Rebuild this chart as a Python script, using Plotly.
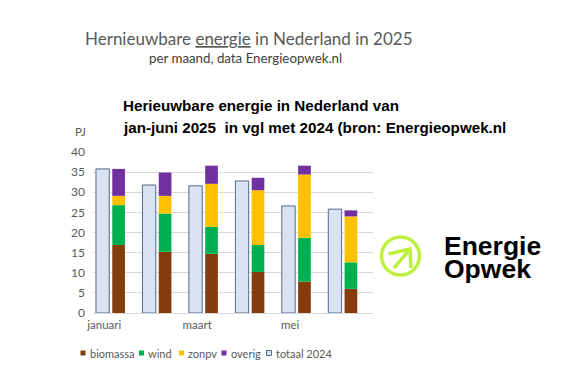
import plotly.graph_objects as go
import numpy as np

# ---- data ----
months = ["januari", "februari", "maart", "april", "mei", "juni"]
biomassa = [16.9, 15.2, 14.7, 10.2, 7.8, 6.0]
wind = [9.9, 9.5, 6.7, 6.7, 10.9, 6.6]
zonpv = [2.3, 4.4, 10.7, 13.6, 15.7, 11.4]
overig = [6.7, 5.8, 4.5, 3.1, 2.2, 1.5]
totaal_2024 = [35.8, 31.8, 31.6, 32.8, 26.6, 25.8]
y_ticks = [0, 5, 10, 15, 20, 25, 30, 35, 40]
x_tick_labels = ["januari", "maart", "mei"]

series = [("biomassa", biomassa, "#843c0c"),
          ("wind", wind, "#00b050"),
          ("zonpv", zonpv, "#ffc000"),
          ("overig", overig, "#7030a0")]
c2024 = "#dae3f3"
c2024_line = "#51698a"

OFF = 8  # browser body margin
W, H = 578 - OFF, 385 - OFF
L, R, T, B = 85, 83, 144, 72
pw, ph = W - L - R, H - T - B
GREY = "#595959"

def px(x):
    return (x - OFF - L) / pw

def py(y):
    return (H - B - (y - OFF)) / ph

xs = np.arange(1, len(months) + 1)

fig = go.Figure()
fig.add_trace(go.Bar(x=xs, y=totaal_2024, name="totaal 2024", offset=-0.319, width=0.287,
                     marker=dict(color=c2024, line=dict(color=c2024_line, width=1))))
base = np.zeros(len(months))
for name, vals, col in series:
    fig.add_trace(go.Bar(x=xs, y=vals, base=base.copy(), name=name, offset=0.032, width=0.273,
                         marker=dict(color=col, line=dict(width=0))))
    base = base + np.array(vals)

fig.update_layout(
    width=W, height=H, barmode="overlay", showlegend=False,
    margin=dict(l=L, r=R, t=T, b=B, pad=0),
    paper_bgcolor="white", plot_bgcolor="white",
    font=dict(family="Lato", color=GREY, size=12),
    xaxis=dict(range=[0.617, 0.617 + pw / 46.46], tickvals=[1 - 0.14, 3 - 0.14, 5 - 0.14],
               ticktext=x_tick_labels, showgrid=False, zeroline=False, showline=False,
               ticks="", tickfont=dict(size=11.5, color=GREY), ticklabelstandoff=3),
    yaxis=dict(range=[0, 40], tickvals=y_ticks, showgrid=True, gridcolor="#d9d9d9", gridwidth=1,
               zeroline=True, zerolinecolor="#d9d9d9", zerolinewidth=1, showline=False, ticks="",
               tickfont=dict(size=12, color=GREY), ticklabelstandoff=7),
)

ann = []
# top titles
ann.append(dict(x=px(249), y=py(38), xref="paper", yref="paper", xanchor="center", yanchor="middle",
                text="Hernieuwbare <u>energie</u> in Nederland in 2025", showarrow=False,
                font=dict(family="Lato", size=17, color=GREY)))
ann.append(dict(x=px(245), y=py(58), xref="paper", yref="paper", xanchor="center", yanchor="middle",
                text="per maand, data Energieopwek.nl", showarrow=False,
                font=dict(family="Lato", size=13.3, color="#404040")))
ann.append(dict(x=px(121), y=py(106), xref="paper", yref="paper", xanchor="left", yanchor="middle",
                text="<b>Herieuwbare energie in Nederland van</b>", showarrow=False,
                font=dict(family="Liberation Sans", size=15.2, color="black")))
ann.append(dict(x=px(121), y=py(128), xref="paper", yref="paper", xanchor="left", yanchor="middle",
                text="<b>jan-juni 2025 \u00a0in vgl met 2024 (bron: Energieopwek.nl</b>", showarrow=False,
                font=dict(family="Liberation Sans", size=15.2, color="black")))
ann.append(dict(x=px(80), y=py(131), xref="paper", yref="paper", xanchor="center", yanchor="middle",
                text="PJ", showarrow=False, font=dict(family="Lato", size=11.5, color=GREY)))

shapes = []
# cover (pasted logo background)
shapes.append(dict(type="rect", xref="paper", yref="paper", x0=px(373), x1=px(600), y0=py(160), y1=py(400),
                   fillcolor="white", line=dict(width=0), layer="above"))

# legend
legend_items = [("biomassa", "#843c0c", 80.5), ("wind", "#00b050", 139),
                ("zonpv", "#ffc000", 179), ("overig", "#7030a0", 221.5), ("totaal 2024", c2024, 266.5)]
ly = 353
for name, col, x0 in legend_items:
    lw = 1 if name == "totaal 2024" else 0
    shapes.append(dict(type="rect", xref="paper", yref="paper", x0=px(x0), x1=px(x0 + 5),
                       y0=py(ly + 2.5), y1=py(ly - 2.5), fillcolor=col,
                       line=dict(width=lw, color=c2024_line), layer="above"))
    ann.append(dict(x=px(x0 + 7), y=py(ly), xref="paper", yref="paper", xanchor="left", yanchor="middle",
                    text=name, showarrow=False, font=dict(family="Lato", size=11, color=GREY)))

# logo
lime = "#bff03e"
cx, cy, r = 400.5, 256, 19
shapes.append(dict(type="circle", xref="paper", yref="paper", x0=px(cx - r), x1=px(cx + r),
                   y0=py(cy + r), y1=py(cy - r), line=dict(color=lime, width=3.5), layer="above"))
def P(x, y):
    return f"{px(x):.5f},{py(y):.5f}"
path = f"M {P(388.5, 254)} L {P(410, 249)} L {P(411, 268)} M {P(410, 249)} L {P(394, 268)}"
shapes.append(dict(type="path", xref="paper", yref="paper", path=path,
                   line=dict(color=lime, width=3.5), layer="above"))
logo_txt = ('<span style="font-size:26.5px"><b>Energie</b></span><br>'
            '<span style="font-size:26.5px"><b>Opwek</b></span>')
ann.append(dict(x=px(442), y=py(257), xref="paper", yref="paper", xanchor="left", yanchor="middle",
                text=logo_txt, showarrow=False, align="left",
                font=dict(family="Liberation Sans", size=17.7, color="black")))

fig.update_layout(annotations=ann, shapes=shapes)
fig.write_html("out.html")
